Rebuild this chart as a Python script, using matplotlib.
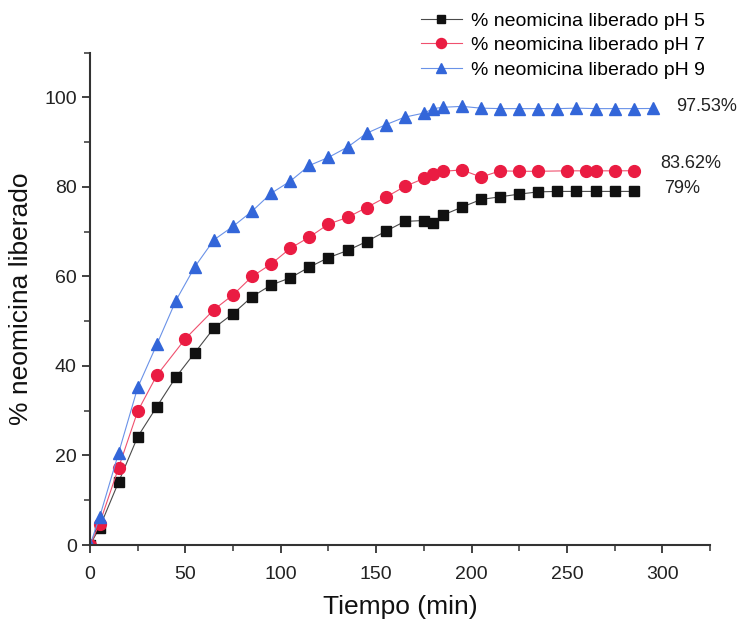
import matplotlib
matplotlib.use("Agg")
import matplotlib.pyplot as plt
from matplotlib.ticker import MultipleLocator

plt.rcParams["font.family"] = ["Liberation Sans", "DejaVu Sans"]

# release time (min) and % neomicina released for each pH
t_ph5 = [0, 5, 15, 25, 35, 45, 55, 65, 75, 85, 95, 105, 115, 125, 135, 145, 155, 165,
         175, 180, 185, 195, 205, 215, 225, 235, 245, 255, 265, 275, 285]
y_ph5 = [0, 3.9, 14.1, 24.2, 30.9, 37.5, 43.0, 48.5, 51.7, 55.5, 58.1, 59.7, 62.1, 64.2,
         65.8, 67.8, 70.1, 72.3, 72.5, 71.9, 73.7, 75.5, 77.2, 77.8, 78.4, 78.9, 79.0,
         79.0, 79.0, 79.0, 79.0]

t_ph7 = [0, 5, 15, 25, 35, 50, 65, 75, 85, 95, 105, 115, 125, 135, 145, 155, 165,
         175, 180, 185, 195, 205, 215, 225, 235, 250, 260, 265, 275, 285]
y_ph7 = [0, 4.8, 17.3, 29.9, 37.9, 46.1, 52.6, 55.9, 60.0, 62.8, 66.3, 68.8, 71.7, 73.2,
         75.4, 77.7, 80.1, 81.9, 82.8, 83.5, 83.8, 82.2, 83.6, 83.5, 83.5, 83.6, 83.6,
         83.6, 83.6, 83.62]

t_ph9 = [0, 5, 15, 25, 35, 45, 55, 65, 75, 85, 95, 105, 115, 125, 135, 145, 155, 165,
         175, 180, 185, 195, 205, 215, 225, 235, 245, 255, 265, 275, 285, 295]
y_ph9 = [0, 6.2, 20.6, 35.2, 44.8, 54.6, 62.2, 68.2, 71.2, 74.6, 78.6, 81.3, 84.8, 86.6,
         88.9, 92.0, 93.9, 95.6, 96.5, 97.5, 97.8, 98.0, 97.6, 97.5, 97.5, 97.5, 97.5,
         97.6, 97.5, 97.5, 97.5, 97.53]

labels = ["% neomicina liberado pH 5", "% neomicina liberado pH 7",
          "% neomicina liberado pH 9"]

fig = plt.figure(figsize=(7.41, 6.24), dpi=100)
ax = fig.add_axes([0.1215, 0.1266, 0.8367, 0.789])

ax.plot(t_ph5, y_ph5, color="#4a4a4a", lw=0.8, marker="s", ms=6.5,
        mfc="#111111", mec="#111111", label=labels[0])
ax.plot(t_ph7, y_ph7, color="#f0506e", lw=0.8, marker="o", ms=8.5,
        mfc="#ea1c42", mec="#ea1c42", label=labels[1])
ax.plot(t_ph9, y_ph9, color="#6a92e8", lw=0.8, marker="^", ms=9,
        mfc="#3366d9", mec="#3366d9", label=labels[2])

# final release values next to the plateaus
ax.text(t_ph9[-1] + 12, y_ph9[-1] + 0.4, f"{y_ph9[-1]:.2f}%", fontsize=13,
        va="center", ha="left", clip_on=False, color="#222222")
ax.text(t_ph7[-1] + 14, y_ph7[-1] + 1.6, f"{y_ph7[-1]:.2f}%", fontsize=13,
        va="center", ha="left", clip_on=False, color="#222222")
ax.text(t_ph5[-1] + 16, y_ph5[-1] + 0.6, f"{y_ph5[-1]:.0f}%", fontsize=13,
        va="center", ha="left", clip_on=False, color="#222222")

ax.set_xlim(0, 325)
ax.set_ylim(0, 110)
ax.xaxis.set_major_locator(MultipleLocator(50))
ax.xaxis.set_minor_locator(MultipleLocator(25))
ax.yaxis.set_major_locator(MultipleLocator(20))
ax.yaxis.set_minor_locator(MultipleLocator(10))

for side in ("top", "right"):
    ax.spines[side].set_visible(False)
for side in ("left", "bottom"):
    ax.spines[side].set_linewidth(1.5)
    ax.spines[side].set_color("#333333")

ax.tick_params(which="major", length=6, width=1.3, color="#333333",
               labelsize=14, labelcolor="#222222")
ax.tick_params(axis="x", which="major", pad=9)
ax.tick_params(which="minor", length=4, width=1.1, color="#333333")

ax.set_xlabel("Tiempo (min)", fontsize=19, color="#111111", labelpad=9)
ax.set_ylabel("% neomicina liberado", fontsize=19, color="#111111", labelpad=8)

ax.legend(loc="upper left", bbox_to_anchor=(421 / 741, 1 - 12 / 624),
          bbox_transform=fig.transFigure, frameon=False, fontsize=14,
          handlelength=2.1, handletextpad=0.45, labelspacing=0.36,
          borderpad=0, borderaxespad=0, markerscale=0.85)

fig.savefig("out.png", dpi=100)
